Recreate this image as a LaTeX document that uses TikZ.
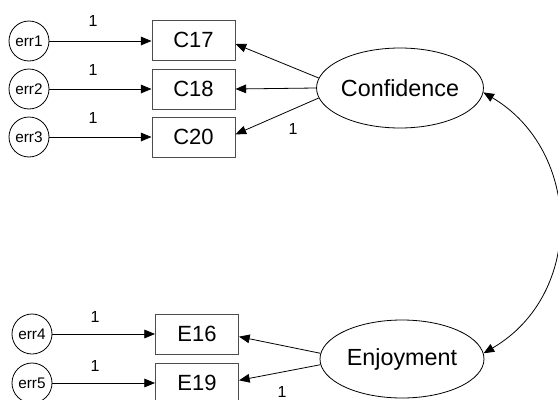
\documentclass[tikz,border=0pt]{standalone}
\usepackage{fontspec}
\setmainfont{Liberation Sans}
\usetikzlibrary{arrows.meta,shapes.geometric}

\begin{document}
\begin{tikzpicture}[x=0.75pt,y=-0.75pt,
  every node/.style={inner sep=0pt},
  obs/.style={draw=black!70, line width=0.75pt, minimum width=62.25pt,
    minimum height=30pt, font=\fontsize{16.5}{19}\selectfont},
  latent/.style={ellipse, draw, line width=0.6pt, minimum width=124.5pt,
    minimum height=60pt, font=\fontsize{17.5}{21}\selectfont},
  errc/.style={ellipse, draw, line width=0.6pt, minimum width=30pt,
    minimum height=30pt, font=\fontsize{11.5}{13}\selectfont},
  reg/.style={-{Triangle[length=8pt,width=6.5pt]}, line width=0.6pt},
  cov/.style={{Triangle[length=8pt,width=6.5pt]}-{Triangle[length=8pt,width=6.5pt]}, line width=0.6pt},
  wt/.style={font=\fontsize{12}{14}\selectfont}
]
\useasboundingbox (0,0) rectangle (558,400);
\clip (0,0) rectangle (558,400);

% latent factors
\node[latent] (conf) at (400,88) {Confidence};
\node[latent, minimum width=123pt, minimum height=58.5pt] (enj) at (402,359) {Enjoyment};

% observed indicators
\node[obs] (C17) at (193.5,40) {C17};
\node[obs] (C18) at (193.5,89) {C18};
\node[obs] (C20) at (193.5,137) {C20};
\node[obs] (E16) at (197,334) {E16};
\node[obs] (E19) at (197,383) {E19};

% error terms
\node[errc] (err1) at (29,41) {err1};
\node[errc] (err2) at (29,89) {err2};
\node[errc] (err3) at (29,137) {err3};
\node[errc] (err4) at (32,334) {err4};
\node[errc] (err5) at (32,383) {err5};

% error paths
\draw[reg] (err1) -- (err1 -| C17.west);
\draw[reg] (err2) -- (err2 -| C18.west);
\draw[reg] (err3) -- (err3 -| C20.west);
\draw[reg] (err4) -- (err4 -| E16.west);
\draw[reg] (err5) -- (err5 -| E19.west);

% factor loadings
\draw[reg] (conf.173) -- ([yshift=-3pt]C17.east);
\draw[reg] (conf.180) -- (C18.east);
\draw[reg] (conf.187) -- ([yshift=2pt]C20.east);
\draw[reg] (enj.176) -- ([yshift=-2pt]E16.east);
\draw[reg] (enj.184) -- ([yshift=2pt]E19.east);

% factor covariance
\draw[cov] (conf.-3) .. controls (582,151) and (585,294) .. (enj.4);

% fixed weights
\node[wt] (w1) at (93,21) {1};
\node[wt] (w2) at (93,70) {1};
\node[wt] (w3) at (93,118) {1};
\node[wt] (w4) at (95,317) {1};
\node[wt] (w5) at (95,366) {1};
\node[wt] (w6) at (293,129) {1};
\node[wt] (w7) at (282,392) {1};
\end{tikzpicture}
\end{document}
